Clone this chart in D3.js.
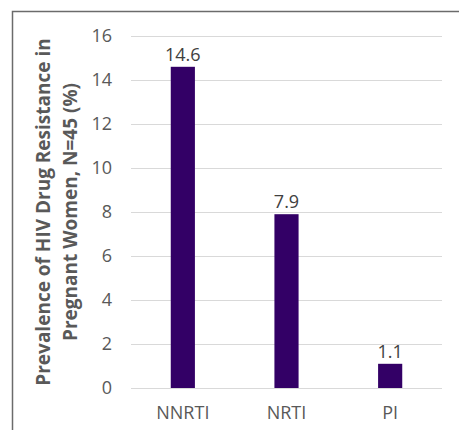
<!DOCTYPE html>
<html>
<head>
<meta charset="utf-8">
<script src="https://cdn.jsdelivr.net/npm/d3@7"></script>
<style>
  html, body { margin: 0; padding: 0; background: #ffffff; }
  svg { display: block; }
</style>
</head>
<body>
<svg id="chart" width="459" height="430"></svg>
<script>
// Drug classes and resistance prevalence (%)
const categories = ["NNRTI", "NRTI", "PI"];
const prevalence = [14.6, 7.9, 1.1];
const yTicks = [0, 2, 4, 6, 8, 10, 12, 14, 16];
const titleLines = ["Prevalence of HIV Drug Resistance in", "Pregnant Women, N=45 (%)"];

const W = 459, H = 430;
const plot = { left: 131, right: 442, top: 36, bottom: 388 };
const font = "'Open Sans', 'DejaVu Sans', sans-serif";

const svg = d3.select("#chart");

// outer frame
svg.append("path")
  .attr("d", `M12.5,${H + 2} L12.5,11.5 L${W + 2},11.5`)
  .attr("fill", "none")
  .attr("stroke", "#6b6b6b")
  .attr("stroke-width", 1.5);

const x = d3.scaleBand()
  .domain(categories)
  .range([plot.left, plot.right])
  .paddingInner(0.767)
  .paddingOuter(0.3835);

const y = d3.scaleLinear()
  .domain([0, 16])
  .range([plot.bottom, plot.top]);

// horizontal gridlines
svg.append("g")
  .selectAll("line")
  .data(yTicks)
  .join("line")
  .attr("x1", plot.left)
  .attr("x2", plot.right)
  .attr("y1", d => Math.round(y(d)) + 0.5)
  .attr("y2", d => Math.round(y(d)) + 0.5)
  .attr("stroke", "#d9d9d9")
  .attr("stroke-width", 1.2);

// y axis labels
const yAxis = d3.axisLeft(y).tickValues(yTicks).tickSize(0).tickPadding(0);
const gy = svg.append("g")
  .attr("transform", `translate(112,0)`)
  .call(yAxis);
gy.select(".domain").remove();
gy.selectAll("text")
  .attr("font-family", font)
  .attr("font-size", 18)
  .attr("fill", "#595959");

// x axis labels
const xAxis = d3.axisBottom(x).tickSize(0).tickPadding(0);
const gx = svg.append("g")
  .attr("transform", `translate(0,${plot.bottom + 18})`)
  .call(xAxis);
gx.select(".domain").remove();
gx.selectAll("text")
  .attr("font-family", font)
  .attr("font-size", 18)
  .attr("fill", "#595959");

const data = categories.map((c, i) => ({ cat: c, val: prevalence[i] }));

// bars
svg.append("g")
  .selectAll("rect")
  .data(data)
  .join("rect")
  .attr("x", d => x(d.cat))
  .attr("width", x.bandwidth())
  .attr("y", d => y(d.val))
  .attr("height", d => y(0) - y(d.val))
  .attr("fill", "#330066");

// value labels
svg.append("g")
  .selectAll("text")
  .data(data)
  .join("text")
  .attr("x", d => x(d.cat) + x.bandwidth() / 2)
  .attr("y", d => y(d.val) - 6)
  .attr("text-anchor", "middle")
  .attr("font-family", font)
  .attr("font-size", 18)
  .attr("fill", "#404040")
  .text(d => d.val.toFixed(1));

// rotated axis title
const title = svg.append("text")
  .attr("transform", `translate(0,${(plot.top + plot.bottom) / 2}) rotate(-90)`)
  .attr("text-anchor", "middle")
  .attr("font-family", font)
  .attr("font-weight", "bold")
  .attr("font-size", 19)
  .attr("fill", "#595959");
title.selectAll("tspan")
  .data(titleLines)
  .join("tspan")
  .attr("x", 0)
  .attr("y", (d, i) => 50 + i * 27)
  .text(d => d);
</script>
</body>
</html>
